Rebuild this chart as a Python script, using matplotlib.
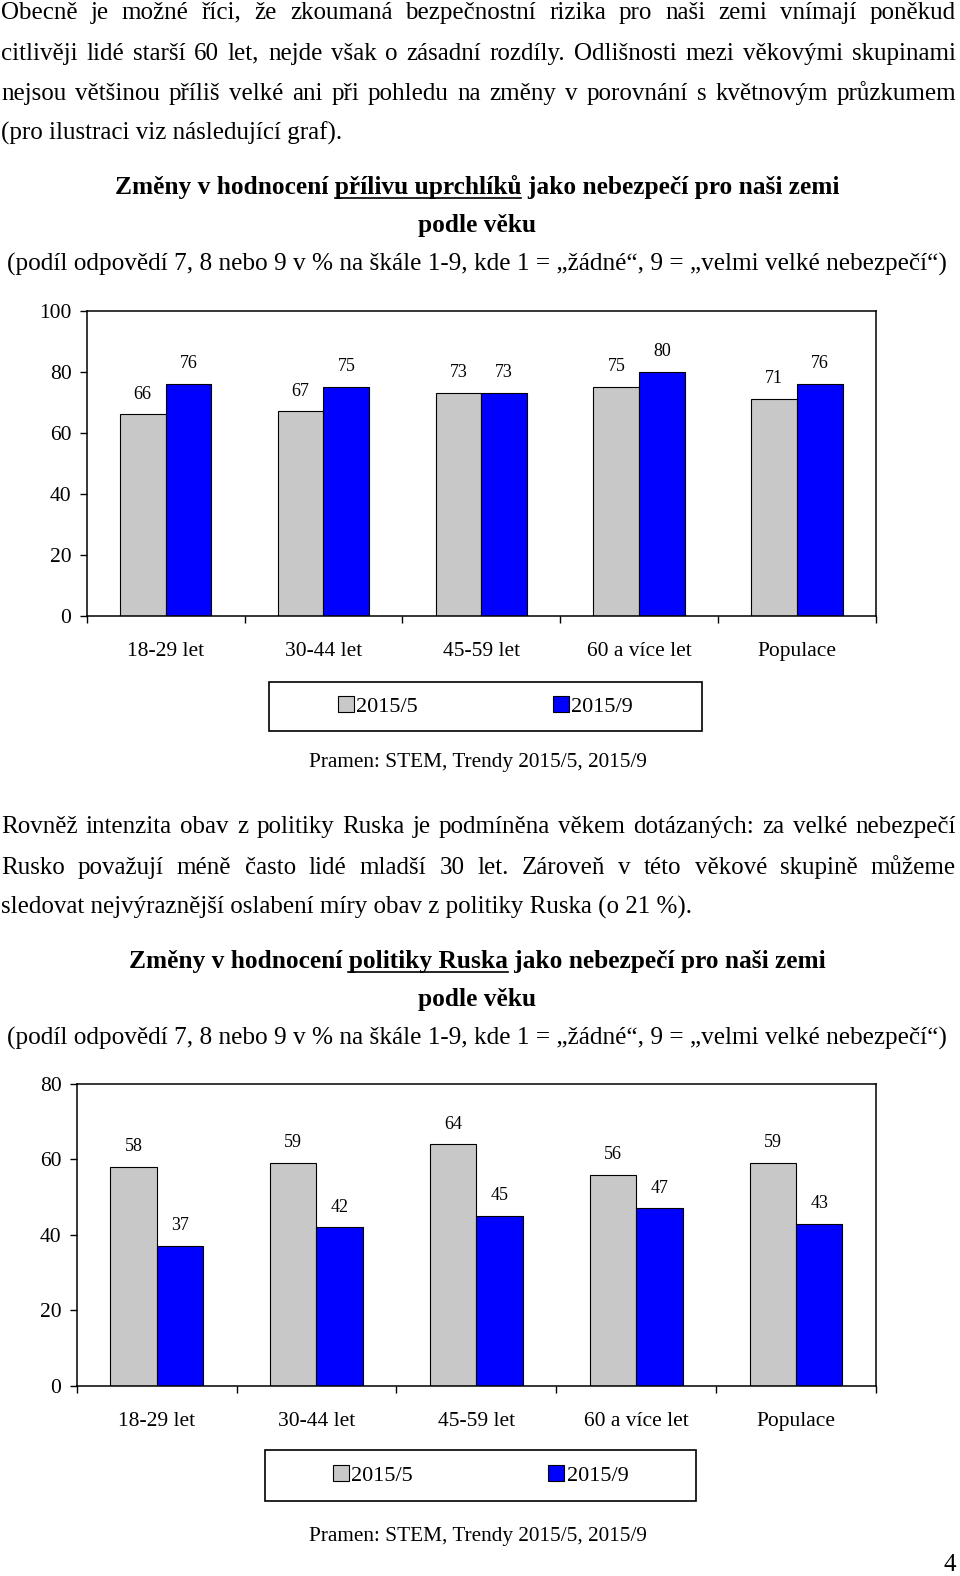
import matplotlib
matplotlib.use('Agg')
import matplotlib.pyplot as plt
from matplotlib.patches import Rectangle
from matplotlib.lines import Line2D
import numpy as np

plt.rcParams['font.family'] = ['Liberation Serif', 'DejaVu Serif']

W, H = 960, 1576

# data
categories = ['18-29 let', '30-44 let', '45-59 let', '60 a více let', 'Populace']
series = ['2015/5', '2015/9']
uprchlici_may = [66, 67, 73, 75, 71]
uprchlici_sep = [76, 75, 73, 80, 76]
rusko_may = [58, 59, 64, 56, 59]
rusko_sep = [37, 42, 45, 47, 43]
colors = ['#C8C8C8', '#0000FF']

para1 = ['Obecně je možné říci, že zkoumaná bezpečnostní rizika pro naši zemi vnímají poněkud',
         'citlivěji lidé starší 60 let, nejde však o zásadní rozdíly. Odlišnosti mezi věkovými skupinami',
         'nejsou většinou příliš velké ani při pohledu na změny v porovnání s květnovým průzkumem',
         '(pro ilustraci viz následující graf).']
para2 = ['Rovněž intenzita obav z politiky Ruska je podmíněna věkem dotázaných: za velké nebezpečí',
         'Rusko považují méně často lidé mladší 30 let. Zároveň v této věkové skupině můžeme',
         'sledovat nejvýraznější oslabení míry obav z politiky Ruska (o 21 %).']
title1 = ('Změny v hodnocení ', 'přílivu uprchlíků', ' jako nebezpečí pro naši zemi')
title2 = ('Změny v hodnocení ', 'politiky Ruska', ' jako nebezpečí pro naši zemi')
subtitle = 'podle věku'
note = '(podíl odpovědí 7, 8 nebo 9 v % na škále 1-9, kde 1 = „žádné“, 9 = „velmi velké nebezpečí“)'
source = 'Pramen: STEM, Trendy 2015/5, 2015/9'

fig = plt.figure(figsize=(W/100, H/100), dpi=100)
rend = fig.canvas.get_renderer()

def fx(x): return x / W
def fy(y): return 1 - y / H

def put(x, y, s, **kw):
    return fig.text(fx(x), fy(y), s, **kw)

def tw(s, **kw):
    t = put(0, 0, s, **kw)
    w = t.get_window_extent(rend).width
    t.remove()
    return w

BODY = 18

def paragraph(lines, y0, step=40.5):
    for i, line in enumerate(lines):
        # agg rounds each word's bitmap by its own descent; this offset keeps
        # the words of one line on the same pixel row
        y = round(y0 + i*step) - 0.48
        if i == len(lines) - 1:
            put(1, y, line, fontsize=BODY, va='baseline')
            continue
        # justified line: place words one by one
        words = line.split()
        ws = [tw(w, fontsize=BODY) for w in words]
        gap = (956 - 1 - sum(ws)) / (len(words) - 1)
        x = 1
        for w, wd in zip(words, ws):
            put(x, y, w, fontsize=BODY, va='baseline')
            x += wd + gap

def title(parts, y, cx=477):
    pre, und, post = parts
    full = pre + und + post
    kw = dict(fontsize=18.25, fontweight='bold')
    left = cx - tw(full, **kw)/2
    put(left, y, full, va='baseline', **kw)
    u0 = left + tw(pre + 'x', **kw) - tw('x', **kw)
    u1 = left + tw(pre + und, **kw)
    fig.add_artist(Line2D([fx(u0), fx(u1)], [fy(y+3.5), fy(y+3.5)], transform=fig.transFigure,
                          color='black', lw=1.2))
    put(cx, y+38, subtitle, ha='center', va='baseline', **kw)
    put(cx, y+77, note, ha='center', va='baseline', fontsize=18.15)

def chart(box, may, sep, ymax, leg, src_y):
    l, t, r, b = box
    ax = fig.add_axes([fx(l), fy(b), (r-l)/W, (b-t)/H])
    x = np.arange(len(categories))
    w = 0.29
    b1 = ax.bar(x - w/2, may, w, color=colors[0], edgecolor='black', linewidth=0.8)
    b2 = ax.bar(x + w/2, sep, w, color=colors[1], edgecolor='black', linewidth=0.8)
    for bars in (b1, b2):
        ax.bar_label(bars, padding=8.5, fontsize=13)
    ax.set_xlim(-0.5, len(categories) - 0.5)
    ax.set_ylim(0, ymax)
    ax.set_yticks(range(0, ymax + 1, 20))
    ax.set_xticks(x, categories)
    ax.set_xticks(np.arange(-0.5, len(categories), 1), minor=True)
    ax.tick_params(axis='x', which='major', length=0, pad=19, labelsize=15.5)
    ax.tick_params(axis='x', which='minor', length=5, width=1, direction='out')
    ax.tick_params(axis='y', length=5, width=1, direction='out', pad=6, labelsize=15.5)
    for s in ax.spines.values():
        s.set_linewidth(1.1)
    # legend, frame drawn separately
    ll, lt, lr, lb = leg
    fig.legend([b1, b2], series, loc='center', bbox_to_anchor=(fx((ll+lr)/2), fy((lt+lb)/2)),
               ncol=2, frameon=False, fontsize=16, handlelength=0.72, handleheight=0.72,
               handletextpad=0.1, columnspacing=6.1, borderaxespad=0)
    fig.add_artist(Rectangle((fx(ll), fy(lb)), (lr-ll)/W, (lb-lt)/H, transform=fig.transFigure,
                             fill=False, edgecolor='black', lw=1.2))
    put(478, src_y, source, ha='center', va='center', fontsize=15.3)

paragraph(para1, 19)
title(title1, 194)
chart((86.7, 310.7, 876, 615.7), uprchlici_may, uprchlici_sep, 100, (269, 681.7, 702, 730.7), 762)

paragraph(para2, 833)
title(title2, 968)
chart((76.7, 1084, 876, 1385.7), rusko_may, rusko_sep, 80, (265, 1450, 696, 1500.7), 1536)

put(950, 1565, '4', ha='center', va='center', fontsize=18)

fig.savefig('out.png', dpi=100)
